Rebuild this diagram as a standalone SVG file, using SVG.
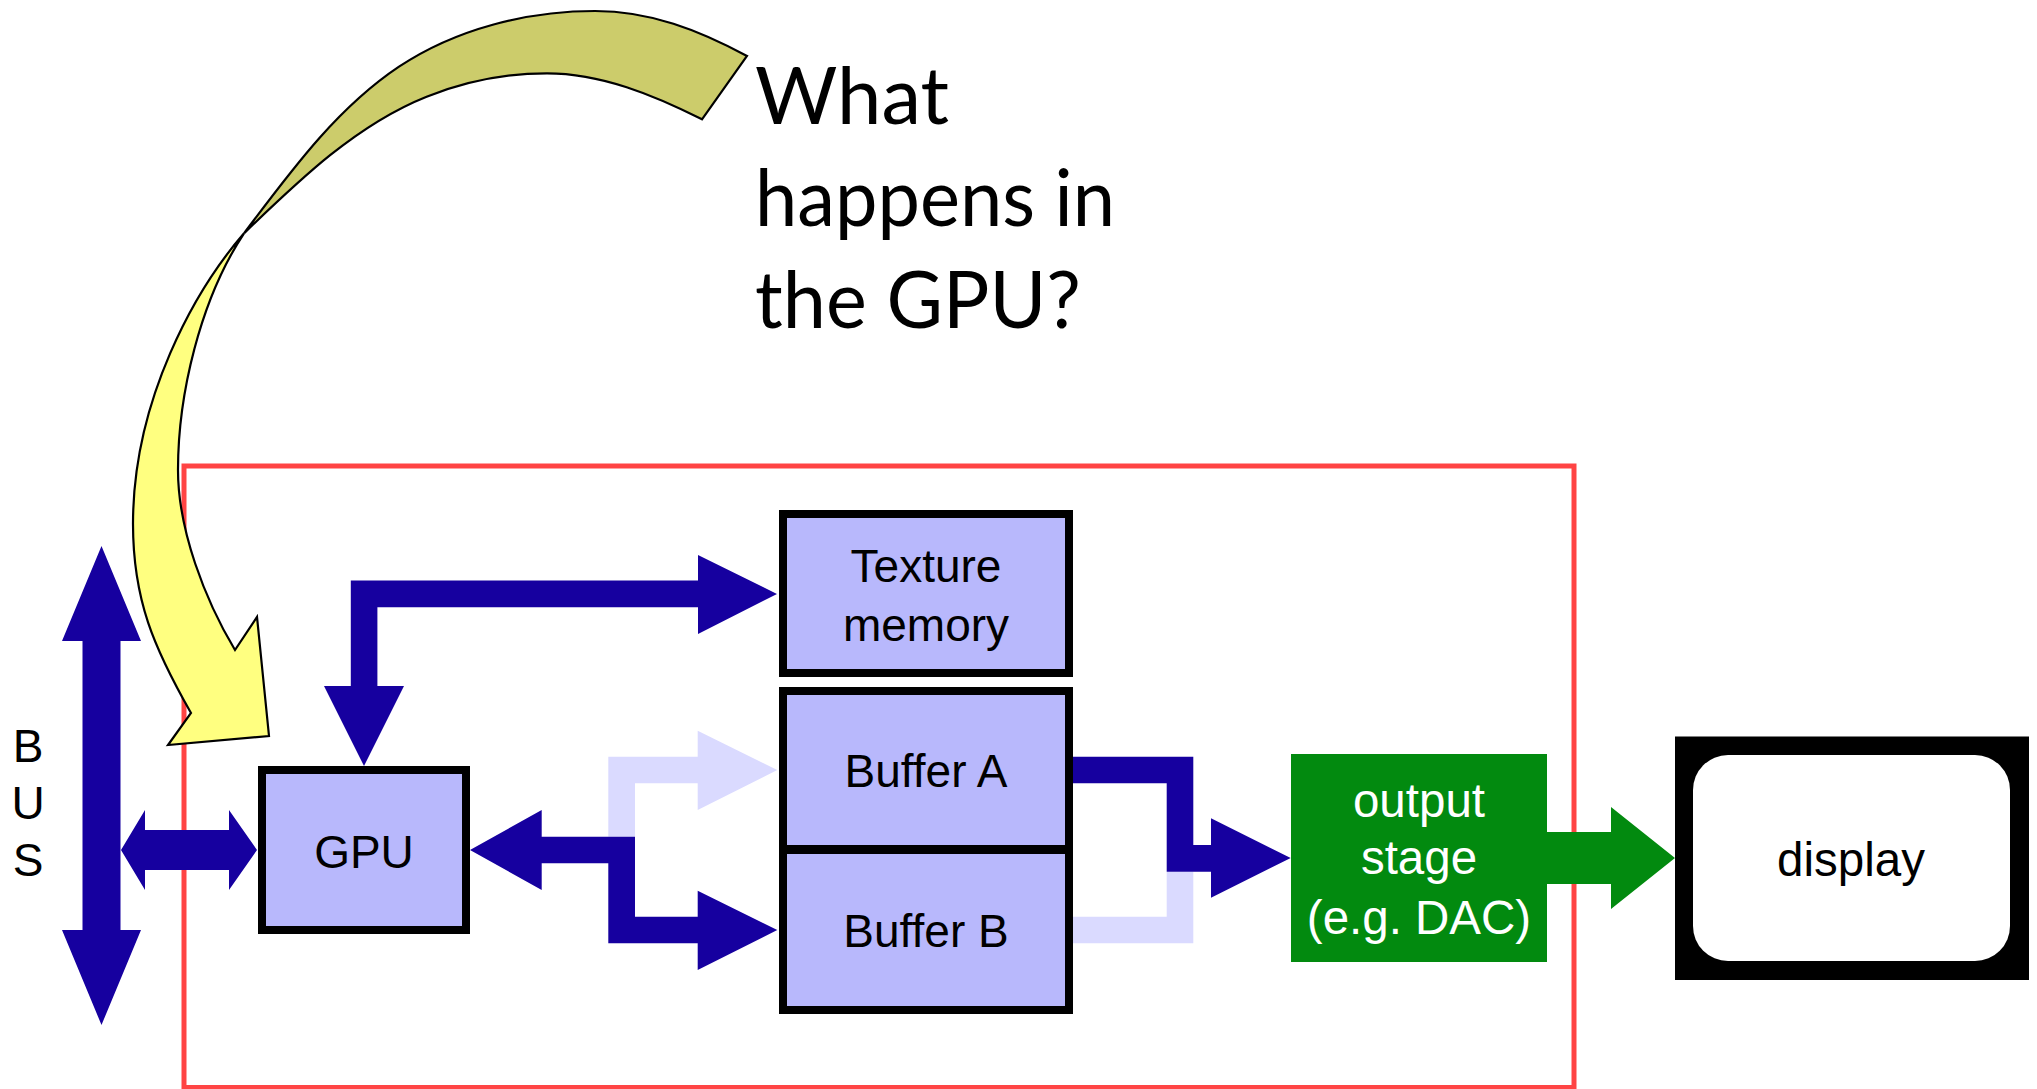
<svg xmlns="http://www.w3.org/2000/svg" width="2037" height="1089" viewBox="0 0 2037 1089">
<style>
.box{fill:#B8B8FC;stroke:#000;stroke-width:8}
.lbl{font-family:"Liberation Sans",Arial,sans-serif;font-size:46px;text-anchor:middle;fill:#000}
.wlbl{font-family:"Liberation Sans",Arial,sans-serif;font-size:47.5px;text-anchor:middle;fill:#fff}
.dark{fill:#16009F}
.light{fill:#DADAFF}
.q{font-family:Lato,"Open Sans",sans-serif;font-size:80px;fill:#000}
.callout{stroke:#000;stroke-width:2.2;stroke-linejoin:miter}
</style>
<rect width="2037" height="1089" fill="#fff"/>

<g id="gpu-boundary">
<rect x="184" y="466" width="1390" height="621.5" fill="none" stroke="#FF4444" stroke-width="5"/>
</g>

<g id="bus">
<polygon class="dark" points="101.5,546 141,641 120.5,641 120.5,930 141,930 101.5,1025 62,930 82.5,930 82.5,641 62,641"/>
<text class="lbl" x="28" y="762">B</text>
<text class="lbl" x="28" y="819">U</text>
<text class="lbl" x="28" y="876">S</text>
</g>

<g id="connectors">
<polygon class="dark" points="121,850 145,810 145,830 229,830 229,810 257,850 229,890 229,870 145,870 145,890"/>
<polygon class="dark" points="364,766 404,686 377.4,686 377.4,607.3 698,607.3 698,634 777,594 698,555 698,580.4 350.8,580.4 350.8,686 324,686"/>
<polygon class="light" points="608.3,836.7 608.3,756.7 697.7,756.7 697.7,730.7 777.3,770 697.7,810 697.7,783.3 635,783.3 635,836.7"/>
<polygon class="dark" points="470,850 541.7,810 541.7,836.7 635,836.7 635,916.7 697.7,916.7 697.7,890.7 777.3,930 697.7,970 697.7,943.3 608.3,943.3 608.3,863.3 541.7,863.3 541.7,890"/>
<polygon class="light" points="1073,916.7 1166.7,916.7 1166.7,871.7 1193.3,871.7 1193.3,943.3 1073,943.3"/>
<polygon class="dark" points="1073,756.7 1193.3,756.7 1193.3,845 1211,845 1211,818.3 1290.7,858 1211,897.7 1211,871.7 1166.7,871.7 1166.7,783.3 1073,783.3"/>
<polygon fill="#028A0F" points="1547,832 1611,832 1611,807 1675,858 1611,909 1611,884 1547,884"/>
</g>

<g id="gpu">
<rect class="box" x="262" y="770" width="204" height="160"/>
<text class="lbl" x="364" y="868">GPU</text>
</g>

<g id="texture-memory">
<rect class="box" x="783" y="514" width="286" height="159"/>
<text class="lbl" x="926" y="582">Texture</text>
<text class="lbl" x="926" y="641">memory</text>
</g>

<g id="buffer-a">
<rect class="box" x="783" y="691" width="286" height="158"/>
<text class="lbl" x="926" y="787">Buffer A</text>
</g>

<g id="buffer-b">
<rect class="box" x="783" y="850" width="286" height="160"/>
<text class="lbl" x="926" y="947">Buffer B</text>
</g>

<g id="output-stage">
<rect x="1291" y="754" width="256" height="208" fill="#028A0F"/>
<text class="wlbl" x="1419" y="817">output</text>
<text class="wlbl" x="1419" y="874">stage</text>
<text class="wlbl" x="1419" y="934">(e.g. DAC)</text>
</g>

<g id="display">
<rect x="1675" y="736.5" width="354" height="243.5" fill="#000"/>
<rect x="1693" y="755" width="317" height="206" rx="35" ry="35" fill="#fff"/>
<text class="wlbl" style="fill:#000" x="1851" y="876">display</text>
</g>

<g id="callout-arrow">
<path class="callout" fill="#CCCC6B" d="M747,56 C698.6,29.9 650,11 595,11 C527,11 455.6,29 399,66.7 C335.8,108.9 289.8,172.7 244,233.3 C298.7,180.6 356,124.9 426.6,96.7 C464.7,81.5 506,73.3 547,73.3 C601,73.3 653.8,95 702,119.3 Z"/>
<path class="callout" fill="#FFFF80" d="M244,233.3 C195,290 133,400 133,524 C133,600 154,648 191,713 L168,745 L269,736 L257,617 L235,650 C205,600 178,530 178,470 C178,395 200,300 244,233.3 Z"/>
</g>

<g id="question">
<text class="q" x="755" y="124" textLength="194" lengthAdjust="spacingAndGlyphs">What</text>
<text class="q" x="755" y="226" textLength="360" lengthAdjust="spacingAndGlyphs">happens in</text>
<text class="q" x="755" y="328" textLength="326" lengthAdjust="spacingAndGlyphs">the GPU?</text>
</g>
</svg>
